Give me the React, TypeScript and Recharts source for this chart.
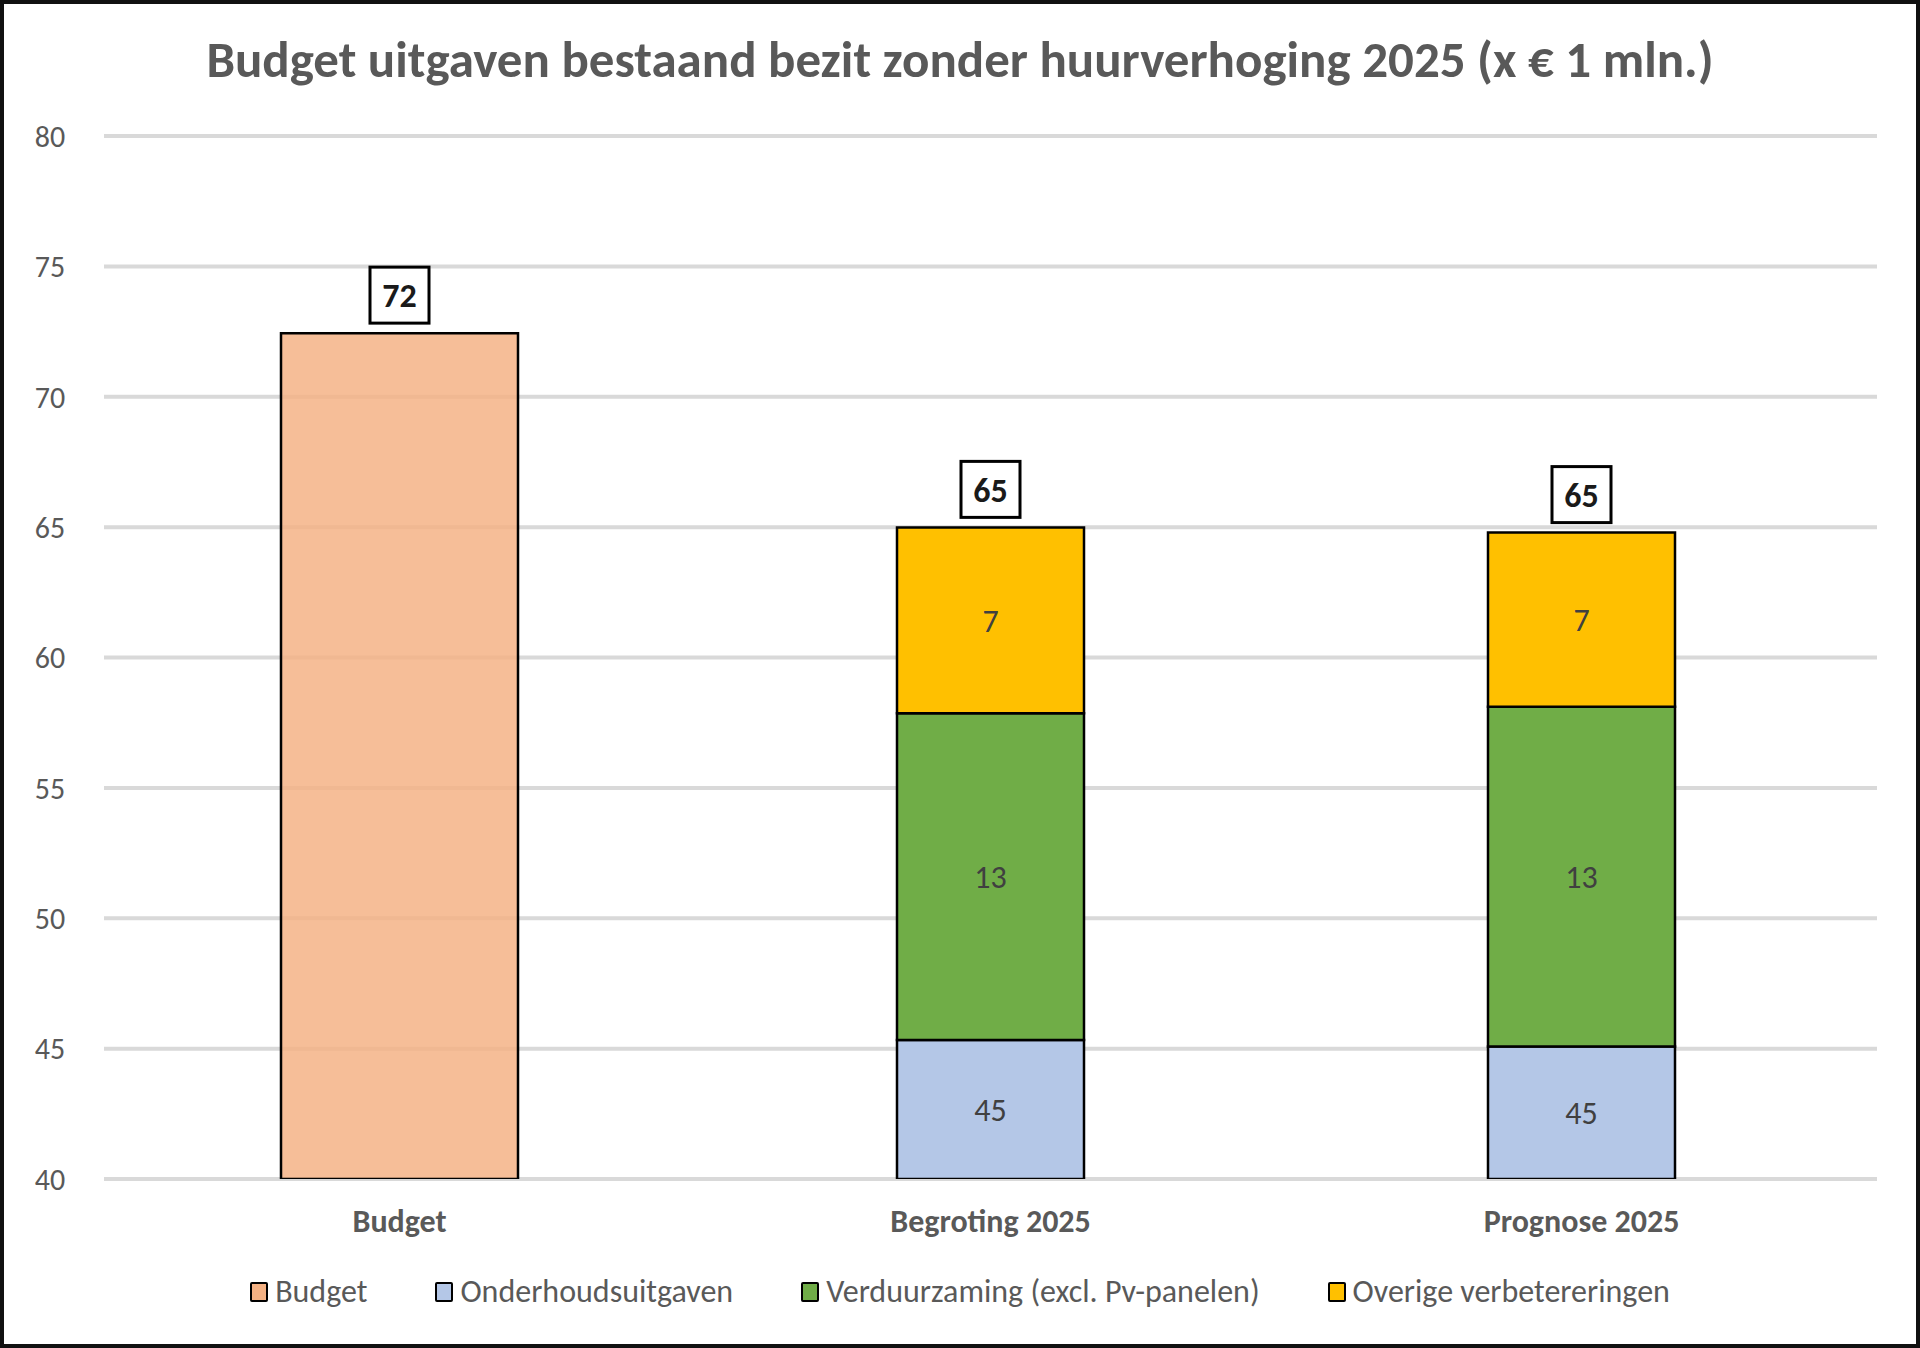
import { Bar, BarChart, CartesianGrid, LabelList, Legend, XAxis, YAxis } from "recharts";

// categories on the x axis
const categories = ["Budget", "Begroting 2025", "Prognose 2025"];

// values in € mln.
const budget = [72.44, null, null];
const onderhoud = [null, 45.33, 45.08];
const verduurzaming = [null, 12.53, 13.03];
const overige = [null, 7.13, 6.68];

const yTicks = [40, 45, 50, 55, 60, 65, 70, 75, 80];

const series = [
  { key: "budget", name: "Budget", color: "#F4B183" },
  { key: "onderhoud", name: "Onderhoudsuitgaven", color: "#B4C7E7" },
  { key: "verduurzaming", name: "Verduurzaming (excl. Pv-panelen)", color: "#70AD47" },
  { key: "overige", name: "Overige verbetereringen", color: "#FFC000" },
];

const FONT = "Calibri, Carlito, Lato, sans-serif";
const GREY = "#595959";

const data = categories.map((name, i) => {
  const stack = [onderhoud[i], verduurzaming[i], overige[i]];
  const hasStack = stack.some((v) => v != null);
  return {
    name,
    budget: budget[i],
    onderhoud: onderhoud[i],
    verduurzaming: verduurzaming[i],
    overige: overige[i],
    budgetTotal: budget[i] != null ? Math.round(budget[i] as number) : null,
    stackTotal: hasStack
      ? Math.round(stack.reduce((s: number, v) => s + (v ?? 0), 0))
      : null,
  };
});

function YTick({ y, payload }: any) {
  return (
    <text
      x={50}
      y={y}
      dy="0.36em"
      textAnchor="middle"
      fontFamily={FONT}
      fontSize={30}
      fill={GREY}
    >
      {payload.value}
    </text>
  );
}

function XTick({ x, payload }: any) {
  return (
    <text
      x={x}
      y={1232}
      textAnchor="middle"
      fontFamily={FONT}
      fontSize={32}
      fontWeight={700}
      fill={GREY}
    >
      {payload.value}
    </text>
  );
}

function TotalLabel({ x, y, width, value }: any) {
  if (value == null) return null;
  const cx = Number(x) + Number(width) / 2;
  const w = 59;
  const h = 56;
  const top = Number(y) - 10 - h;
  return (
    <g>
      <rect x={cx - w / 2} y={top} width={w} height={h} fill="#fff" stroke="#000" strokeWidth={3} />
      <text
        x={cx}
        y={top + h / 2}
        dy="0.36em"
        textAnchor="middle"
        fontFamily={FONT}
        fontSize={34}
        fontWeight={700}
        fill="#1a1a1a"
      >
        {value}
      </text>
    </g>
  );
}

const roundLabel = (v: any) => (v == null ? "" : Math.round(Number(v)));

function LegendContent() {
  return (
    <div
      style={{
        display: "flex",
        justifyContent: "center",
        alignItems: "center",
        gap: 68,
        fontFamily: FONT,
        fontSize: 32,
        color: GREY,
      }}
    >
      {series.map((s) => (
        <div key={s.key} style={{ display: "flex", alignItems: "center", gap: 7 }}>
          <span
            style={{
              width: 14,
              height: 16,
              background: s.color,
              border: "2.5px solid #000",
              borderRadius: 2,
              display: "inline-block",
            }}
          />
          <span style={{ lineHeight: "34px" }}>{s.name}</span>
        </div>
      ))}
    </div>
  );
}

export default function App() {
  return (
    <div style={{ position: "absolute", left: 0, top: 0, width: 1920, height: 1348, background: "#fff" }}>
      <div
        style={{
          position: "absolute",
          left: 0,
          top: 35,
          width: 1920,
          textAlign: "center",
          fontFamily: FONT,
          fontSize: 51,
          fontWeight: 700,
          lineHeight: "50px",
          color: GREY,
        }}
      >
        Budget uitgaven bestaand bezit zonder huurverhoging 2025 (x € 1 mln.)
      </div>
      <BarChart
        width={1920}
        height={1348}
        data={data}
        margin={{ top: 136, right: 43, bottom: 109, left: 0 }}
        style={{ position: "absolute", left: 0, top: 0 }}
      >
        <CartesianGrid vertical={false} stroke="#d9d9d9" strokeWidth={4} />
        <XAxis
          xAxisId="main"
          dataKey="name"
          height={60}
          axisLine={false}
          tickLine={false}
          tick={<XTick />}
        />
        <XAxis xAxisId="budget" dataKey="name" hide />
        <YAxis
          width={104}
          domain={[40, 80]}
          ticks={yTicks}
          allowDataOverflow
          axisLine={false}
          tickLine={false}
          tick={<YTick />}
        />
        <Legend
          layout="horizontal"
          verticalAlign="middle"
          align="center"
          wrapperStyle={{ top: 1275, left: 0, width: 1920 }}
          content={<LegendContent />}
        />
        <Bar
          xAxisId="budget"
          dataKey="budget"
          name="Budget"
          barSize={237}
          fill="#F4B183"
          fillOpacity={0.83}
          stroke="#000"
          strokeWidth={2.5}
          isAnimationActive={false}
        >
          <LabelList dataKey="budgetTotal" content={<TotalLabel />} />
        </Bar>
        <Bar
          xAxisId="main"
          dataKey="onderhoud"
          name="Onderhoudsuitgaven"
          stackId="s"
          barSize={187}
          fill="#B4C7E7"
          stroke="#000"
          strokeWidth={2.5}
          isAnimationActive={false}
        >
          <LabelList dataKey="onderhoud" position="center" formatter={roundLabel} fill="#404040" fontFamily={FONT} fontSize={32} />
        </Bar>
        <Bar
          xAxisId="main"
          dataKey="verduurzaming"
          name="Verduurzaming (excl. Pv-panelen)"
          stackId="s"
          barSize={187}
          fill="#70AD47"
          stroke="#000"
          strokeWidth={2.5}
          isAnimationActive={false}
        >
          <LabelList dataKey="verduurzaming" position="center" formatter={roundLabel} fill="#404040" fontFamily={FONT} fontSize={32} />
        </Bar>
        <Bar
          xAxisId="main"
          dataKey="overige"
          name="Overige verbetereringen"
          stackId="s"
          barSize={187}
          fill="#FFC000"
          stroke="#000"
          strokeWidth={2.5}
          isAnimationActive={false}
        >
          <LabelList dataKey="overige" position="center" formatter={roundLabel} fill="#404040" fontFamily={FONT} fontSize={32} />
          <LabelList dataKey="stackTotal" content={<TotalLabel />} />
        </Bar>
      </BarChart>
      <div
        style={{
          position: "absolute",
          left: 0,
          top: 0,
          width: 1920,
          height: 1348,
          boxSizing: "border-box",
          border: "4px solid #111",
          pointerEvents: "none",
        }}
      />
    </div>
  );
}
